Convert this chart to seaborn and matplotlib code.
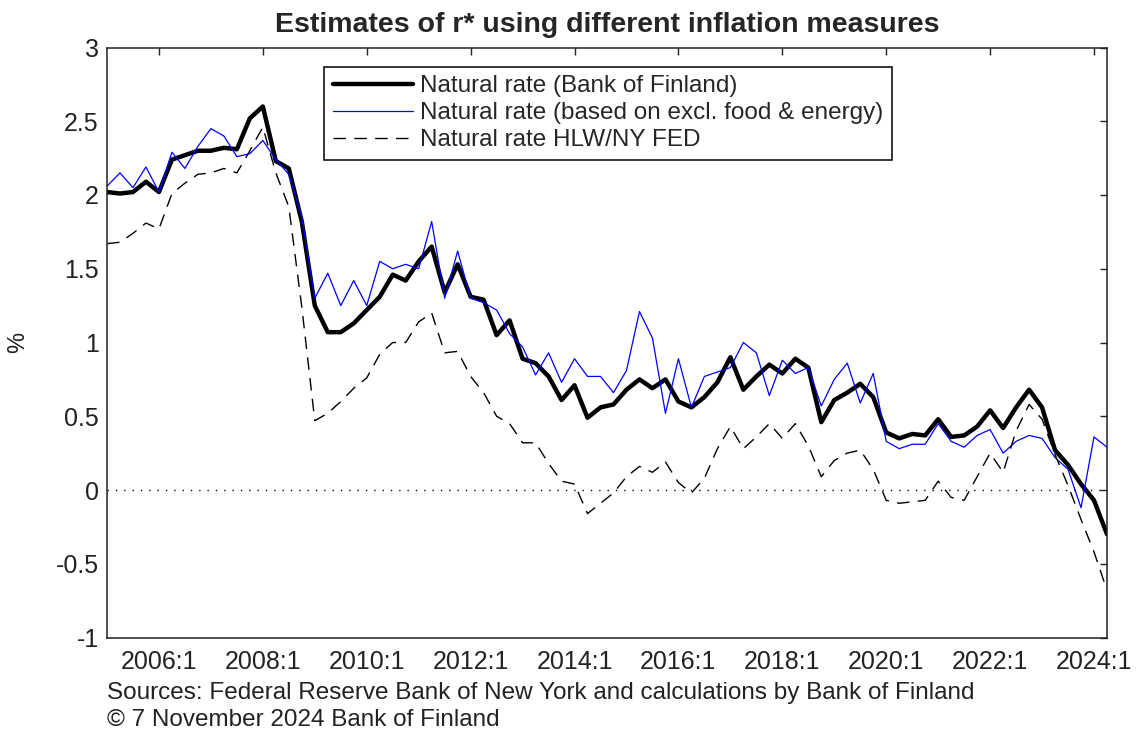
import pandas as pd
import seaborn as sns
import matplotlib.pyplot as plt

# quarterly estimates, 2005:1 .. 2024:2
quarters = pd.period_range('2005Q1', '2024Q2', freq='Q')

bof_rate = [2.02, 2.01, 2.02, 2.09, 2.02, 2.24, 2.27, 2.30, 2.30, 2.32,
            2.31, 2.52, 2.60, 2.23, 2.18, 1.82, 1.25, 1.07, 1.07, 1.13,
            1.22, 1.31, 1.46, 1.42, 1.55, 1.65, 1.34, 1.53, 1.31, 1.29,
            1.05, 1.15, 0.89, 0.86, 0.77, 0.61, 0.71, 0.49, 0.56, 0.58,
            0.68, 0.75, 0.69, 0.75, 0.60, 0.56, 0.63, 0.73, 0.90, 0.68,
            0.77, 0.85, 0.79, 0.89, 0.83, 0.46, 0.61, 0.66, 0.72, 0.63,
            0.39, 0.35, 0.38, 0.37, 0.48, 0.36, 0.37, 0.43, 0.54, 0.42,
            0.56, 0.68, 0.56, 0.27, 0.17, 0.04, -0.07, -0.30]

core_rate = [2.06, 2.15, 2.05, 2.19, 2.02, 2.29, 2.18, 2.33, 2.45, 2.40,
             2.26, 2.28, 2.37, 2.24, 2.14, 1.85, 1.30, 1.47, 1.25, 1.42,
             1.25, 1.55, 1.50, 1.53, 1.50, 1.82, 1.30, 1.62, 1.30, 1.27,
             1.22, 1.06, 0.97, 0.78, 0.93, 0.73, 0.89, 0.77, 0.77, 0.66,
             0.81, 1.21, 1.03, 0.52, 0.89, 0.56, 0.77, 0.80, 0.83, 1.00,
             0.93, 0.64, 0.88, 0.79, 0.83, 0.57, 0.75, 0.86, 0.59, 0.79,
             0.33, 0.28, 0.31, 0.31, 0.45, 0.33, 0.29, 0.37, 0.41, 0.25,
             0.33, 0.37, 0.35, 0.22, 0.14, -0.12, 0.36, 0.29]

hlw_rate = [1.67, 1.68, 1.74, 1.81, 1.77, 2.01, 2.08, 2.14, 2.15, 2.18,
            2.15, 2.30, 2.46, 2.15, 1.92, 1.24, 0.47, 0.52, 0.60, 0.69,
            0.76, 0.92, 1.00, 1.00, 1.14, 1.20, 0.93, 0.94, 0.77, 0.66,
            0.50, 0.45, 0.32, 0.32, 0.18, 0.06, 0.04, -0.16, -0.09, -0.02,
            0.09, 0.16, 0.12, 0.19, 0.05, -0.02, 0.08, 0.28, 0.43, 0.28,
            0.36, 0.45, 0.35, 0.45, 0.30, 0.09, 0.20, 0.25, 0.27, 0.14,
            -0.07, -0.09, -0.08, -0.07, 0.06, -0.05, -0.07, 0.09, 0.25, 0.12,
            0.40, 0.58, 0.48, 0.24, 0.03, -0.20, -0.42, -0.68]

tick_years = [2006, 2008, 2010, 2012, 2014, 2016, 2018, 2020, 2022, 2024]
tick_labels = [f'{y}:1' for y in tick_years]
y_ticks = [-1, -0.5, 0, 0.5, 1, 1.5, 2, 2.5, 3]

df = pd.DataFrame({
    't': quarters.year + (quarters.quarter - 1) / 4,
    'bof': bof_rate,
    'core': core_rate,
    'hlw': hlw_rate,
})

sns.set_style('white')
plt.rcParams['font.family'] = ['Liberation Sans', 'DejaVu Sans']

fig = plt.figure(figsize=(11.41, 7.40), dpi=100)
ax = fig.add_axes([107 / 1141, 1 - 637.5 / 740, 1000 / 1141, 590 / 740])

sns.lineplot(data=df, x='t', y='bof', ax=ax, color='black', linewidth=3.2,
             label='Natural rate (Bank of Finland)')
sns.lineplot(data=df, x='t', y='core', ax=ax, color='#0000ff', linewidth=0.9,
             label='Natural rate (based on excl. food & energy)')
sns.lineplot(data=df, x='t', y='hlw', ax=ax, color='black', linewidth=1.0,
             linestyle=(0, (9, 6)), label='Natural rate HLW/NY FED')
ax.axhline(0, color='black', linewidth=1.0, linestyle=(0, (1, 5)), zorder=0)

ax.set_xlim(2005, 2024.25)
ax.set_ylim(-1, 3)
ax.set_xticks(tick_years)
ax.set_xticklabels(tick_labels)
ax.set_yticks(y_ticks)
ax.set_yticklabels([f'{v:g}' for v in y_ticks])
ax.tick_params(direction='in', top=True, right=True, length=5, width=1,
               labelsize=18, colors='#222222')
ax.tick_params(axis='x', pad=9)
ax.tick_params(axis='y', pad=6)
for s in ax.spines.values():
    s.set_color('#222222')
    s.set_linewidth(1.1)

ax.set_xlabel('')
ax.set_ylabel('%', fontsize=17, color='#222222')
ax.yaxis.set_label_coords(-0.078, 0.5)
ax.set_title('Estimates of r* using different inflation measures',
             fontsize=20.5, fontweight='bold', pad=11)

leg = ax.legend(loc='upper left', bbox_to_anchor=(0.217, 0.967),
                borderaxespad=0, fontsize=17.5, frameon=True, fancybox=False,
                edgecolor='black', framealpha=1, handlelength=3.3,
                handletextpad=0.3, labelspacing=0.2, borderpad=0.35)
leg.get_frame().set_linewidth(1.1)

fig.text(107 / 1141, 1 - 693 / 740,
         'Sources: Federal Reserve Bank of New York and calculations by Bank of Finland',
         fontsize=17.5, va='center', ha='left', color='#222222')
fig.text(107 / 1141, 1 - 720 / 740, '\u00a9 7 November 2024 Bank of Finland',
         fontsize=17.5, va='center', ha='left', color='#222222')

fig.savefig('out.png', dpi=100)
